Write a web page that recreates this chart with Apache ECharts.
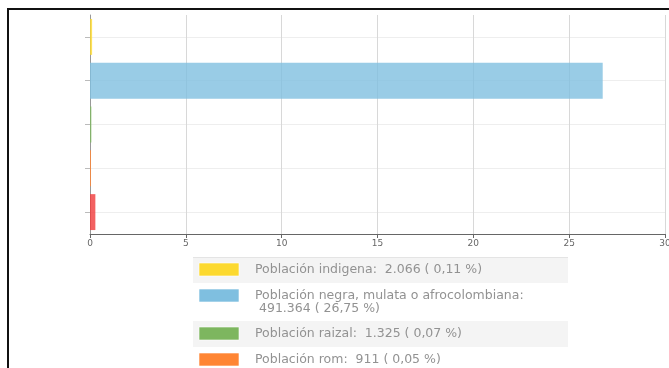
<!DOCTYPE html>
<html>
<head>
<meta charset="utf-8">
<script src="https://cdn.jsdelivr.net/npm/echarts@6/dist/echarts.min.js"></script>
<style>
html,body{margin:0;padding:0;background:#fff;overflow:hidden;width:669px;height:368px;}
#topline{position:absolute;left:7px;top:8px;width:662px;height:2px;background:#111;}
#leftline{position:absolute;left:7px;top:8px;width:2px;height:360px;background:#111;}
#chart{position:absolute;left:0;top:0;width:669px;height:368px;}
</style>
</head>
<body>
<div id="topline"></div>
<div id="leftline"></div>
<div id="chart"></div>
<script>
var categories = ['Población indigena', 'Población negra, mulata o afrocolombiana', 'Población raizal', 'Población rom', 'Población palenquera'];
var values = [0.11, 26.75, 0.07, 0.05, 0.28];
var colors = ['#fcd92f', '#7fbfe0', '#7db65f', '#ff8533', '#f03a3a'];
var legendLines = [
  ['Población indigena:  2.066 ( 0,11 %)'],
  ['Población negra, mulata o afrocolombiana:', ' 491.364 ( 26,75 %)'],
  ['Población raizal:  1.325 ( 0,07 %)'],
  ['Población rom:  911 ( 0,05 %)'],
  ['Población palenquera']
];
var xTicks = [0, 5, 10, 15, 20, 25, 30];

var chart = echarts.init(document.getElementById('chart'), null, {renderer: 'canvas', width: 669, height: 368});

var graphics = [];
var y = 257, lx = 193, lw = 375;
legendLines.forEach(function (lines, i) {
  var h = lines.length > 1 ? 38 : 26;
  graphics.push({type: 'rect', shape: {x: lx, y: y, width: lw, height: h},
    style: {fill: i % 2 === 0 ? '#f4f4f4' : '#ffffff'}, silent: true});
  graphics.push({type: 'line', shape: {x1: lx, y1: y + h + 0.5, x2: lx + lw, y2: y + h + 0.5},
    style: {stroke: '#e4e4e4', lineWidth: 1}, silent: true});
  graphics.push({type: 'rect', shape: {x: 199, y: y + 6, width: 40, height: 13},
    style: {fill: colors[i], stroke: 'rgba(255,255,255,0.6)', lineWidth: 1}, silent: true});
  lines.forEach(function (t, k) {
    graphics.push({type: 'text', x: 255, y: y + 13 + k * 13,
      style: {text: t, fill: '#929292', font: '12.5px "DejaVu Sans"', textVerticalAlign: 'middle'}, silent: true});
  });
  y += h;
});
graphics.push({type: 'line', shape: {x1: lx, y1: 257.5, x2: lx + lw, y2: 257.5},
  style: {stroke: '#e4e4e4', lineWidth: 1}, silent: true});

chart.setOption({
  animation: false,
  grid: {left: 90, right: 4, top: 15, bottom: 134, containLabel: false, outerBoundsMode: 'none'},
  xAxis: {
    type: 'value', min: 0, max: 30, interval: 5,
    axisLine: {show: true, lineStyle: {color: '#666', width: 1}},
    axisTick: {show: true, length: 4, lineStyle: {color: '#666'}},
    axisLabel: {color: '#666', fontSize: 9, fontFamily: 'DejaVu Sans', margin: 5,
      formatter: function (v) { return xTicks.indexOf(v) >= 0 ? String(v) : ''; }},
    splitLine: {show: true, lineStyle: {color: '#d8d8d8', width: 1}}
  },
  yAxis: {
    type: 'category', data: categories, inverse: true,
    axisLine: {show: true, lineStyle: {color: '#999', width: 1}},
    axisTick: {show: true, alignWithLabel: true, length: 5, lineStyle: {color: '#bbb'}},
    axisLabel: {show: false},
    splitLine: {show: true, alignWithLabel: true, lineStyle: {color: '#eeeeee', width: 1}}
  },
  series: [{
    type: 'bar',
    data: values.map(function (v, i) {
      return {value: v, itemStyle: {color: colors[i], opacity: 0.8}};
    }),
    barCategoryGap: '18%',
    barMinHeight: 1
  }],
  graphic: graphics
});
</script>
</body>
</html>
